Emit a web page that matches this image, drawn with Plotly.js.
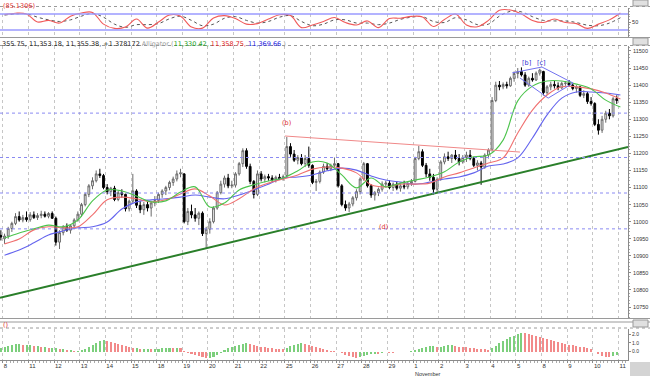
<!DOCTYPE html>
<html><head><meta charset="utf-8">
<script src="https://cdn.plot.ly/plotly-3.0.1.min.js"></script>
<style>html,body{margin:0;padding:0;background:#fff}#c{width:650px;height:376px}</style>
</head><body><div id="c"></div><script>
// ---------- DATA ----------
const dayLabels = ['8','11','12','13','14','15','18','19','20','21','22','25','26','27','28','29','1','2','3','4','5','8','9','10','11'];
const open = [10960,
 10950,10958,10980,10995,11015,11005,11012,
 11006,11020,11012,11018,11022,11016,11024,
 11010,10940,10968,10985,10975,10988,11005,
 11022,11050,11080,11105,11120,11140,11135,
 11100,11088,11098,11065,11085,11080,11038,
 11060,11090,11048,11035,11050,11040,11055,
 11062,11080,11090,11100,11115,11125,11140,
 11140,11000,11030,11020,11010,11025,10965,
 10978,11000,11040,11085,11110,11128,11105,
 11107,11140,11170,11208,11162,11118,11080,
 11140,11125,11132,11128,11122,11130,11126,
 11135,11220,11198,11180,11188,11170,11185,
 11165,11115,11118,11145,11162,11155,11165,
 11170,11105,11050,11040,11052,11070,11088,
 11125,11170,11105,11078,11085,11095,11110,
 11113,11100,11110,11098,11105,11102,11112,
 11118,11185,11205,11165,11140,11130,11095,
 11124,11175,11190,11185,11195,11185,11175,
 11188,11195,11185,11165,11172,11160,11195,
 11212,11355,11400,11395,11402,11398,11420,
 11434,11440,11430,11400,11420,11415,11435,
 11440,11378,11395,11402,11398,11392,11405,
 11406,11400,11390,11395,11370,11375,11352,
 11346,11285,11268,11300,11318,11310,11360];
const high = [10975,
 10965,10985,11000,11025,11030,11020,11030,
 11028,11030,11025,11032,11030,11028,11030,
 11015,10975,10990,10995,10990,11010,11030,
 11055,11085,11110,11130,11150,11155,11140,
 11110,11102,11105,11090,11095,11082,11065,
 11140,11095,11060,11058,11062,11060,11075,
 11085,11095,11105,11120,11132,11150,11155,
 11142,11040,11050,11040,11030,11030,10985,
 11010,11045,11090,11120,11135,11140,11120,
 11145,11175,11215,11215,11170,11122,11150,
 11148,11138,11140,11136,11135,11140,11138,
 11248,11230,11210,11195,11198,11195,11220,
 11168,11125,11150,11170,11172,11170,11188,
 11172,11110,11062,11058,11075,11095,11130,
 11175,11172,11110,11090,11100,11118,11120,
 11122,11115,11118,11112,11120,11118,11125,
 11190,11222,11212,11172,11155,11140,11130,
 11180,11200,11205,11198,11210,11198,11195,
 11205,11210,11190,11180,11178,11200,11215,
 11365,11410,11412,11408,11410,11425,11440,
 11450,11452,11438,11425,11435,11440,11448,
 11442,11400,11410,11412,11408,11410,11412,
 11415,11405,11400,11398,11385,11380,11365,
 11350,11300,11310,11325,11330,11365,11370];
const low = [10945,
 10935,10950,10970,10990,11000,10998,11000,
 11000,11008,11005,11010,11012,11010,11008,
 10930,10920,10960,10970,10965,10980,11000,
 11015,11045,11072,11095,11115,11128,11095,
 11080,11075,11060,11060,11070,11030,11030,
 11055,11040,11025,11020,11030,11015,11045,
 11055,11070,11078,11092,11105,11118,11130,
 10995,10990,11010,11000,10990,10958,10920,
 10965,10995,11035,11080,11100,11098,11098,
 11100,11135,11160,11155,11110,11068,11075,
 11118,11115,11120,11116,11115,11122,11120,
 11130,11190,11175,11168,11165,11160,11158,
 11110,11090,11112,11140,11150,11148,11160,
 11100,11045,11032,11028,11045,11062,11080,
 11120,11100,11070,11062,11075,11088,11100,
 11095,11090,11092,11088,11095,11095,11105,
 11115,11180,11160,11130,11120,11080,11085,
 11120,11168,11178,11172,11180,11165,11170,
 11175,11180,11160,11150,11108,11155,11185,
 11205,11350,11385,11388,11390,11395,11410,
 11420,11425,11395,11395,11410,11412,11428,
 11370,11372,11385,11390,11385,11388,11398,
 11395,11385,11378,11365,11362,11345,11340,
 11280,11255,11260,11290,11300,11305,11345];
const close = [10955,
 10958,10980,10995,11015,11005,11012,11006,
 11020,11012,11018,11022,11016,11024,11010,
 10940,10968,10985,10975,10988,11005,11022,
 11050,11080,11105,11120,11140,11135,11100,
 11088,11098,11065,11085,11080,11038,11060,
 11090,11048,11035,11050,11040,11055,11062,
 11080,11090,11100,11115,11125,11140,11143,
 11000,11030,11020,11010,11025,10965,10978,
 11000,11040,11085,11110,11128,11105,11107,
 11140,11170,11208,11162,11118,11080,11140,
 11125,11132,11128,11122,11130,11126,11132,
 11220,11198,11180,11188,11170,11185,11165,
 11115,11118,11145,11162,11155,11165,11170,
 11105,11050,11040,11052,11070,11088,11125,
 11170,11105,11078,11085,11095,11110,11113,
 11100,11110,11098,11105,11102,11112,11118,
 11185,11205,11165,11140,11130,11095,11124,
 11175,11190,11185,11195,11185,11175,11188,
 11195,11185,11165,11172,11160,11195,11210,
 11355,11400,11395,11402,11398,11420,11434,
 11440,11430,11400,11420,11415,11435,11444,
 11378,11395,11402,11398,11392,11405,11406,
 11400,11390,11395,11370,11375,11352,11346,
 11285,11268,11300,11318,11310,11360,11355];
// Alligator lines, one value every 4 bars
const lips = [10952,10967,10979,10990,10985,11005,11061,11093,11090,11075,11058,11061,11087,11102,11043,11055,11093,11108,11119,11128,11149,11175,11172,11137,11099,11128,11102,11113,11122,11131,11146,11175,11190,11195,11239,11354,11397,11412,11412,11403,11389,11356,11336];
const teeth = [10935,10949,10976,10985,10982,10985,11020,11064,11072,11067,11058,11064,11081,11096,11075,11049,11067,11096,11113,11125,11137,11154,11160,11157,11143,11108,11102,11110,11110,11113,11131,11143,11157,11172,11187,11260,11327,11371,11395,11395,11389,11377,11359];
const jaw = [10902,10917,10938,10961,10973,10982,10985,10999,11037,11058,11064,11067,11072,11078,11072,11067,11078,11093,11110,11128,11131,11137,11149,11157,11151,11134,11122,11116,11110,11116,11125,11131,11143,11163,11169,11187,11245,11313,11362,11380,11380,11377,11371];
const lineStep = 4;
// Stochastic, one value every 3 bars
const stochK = [78,83,80,50,56,46,72,84,86,42,26,31,61,27,50,76,72,31,27,65,74,63,42,44,61,77,74,29,39,52,67,48,39,54,29,63,64,71,69,33,59,80,39,32,56,94,95,80,56,48,61,48,44,26,42,58,84];
const stochD = [76,80,81,68,58,52,58,72,82,68,42,30,40,40,44,62,72,56,36,42,64,70,56,46,52,68,74,52,36,42,58,58,46,46,40,46,60,68,70,52,48,66,58,40,42,72,90,88,70,56,54,54,48,38,36,46,66];
const stochStep = 3;
const stochLevels = [80, 20];
// Histogram oscillator, one value per bar
const osc = [0.45,
 0.5,0.6,0.7,0.85,0.85,0.7,0.7,
 0.7,0.6,0.6,0.5,0.5,0.35,0.35,
 0.35,0.25,0.25,0.12,0.12,0.1,0.1,
 0.12,0.25,0.5,0.7,0.95,1.2,1.3,
 1.2,1.1,0.95,0.85,0.7,0.6,0.5,
 0.35,0.35,0.25,0.25,0.25,0.24,0.24,
 0.25,0.35,0.36,0.37,0.36,0.36,0.35,
 0.1,-0.12,-0.25,-0.35,-0.5,-0.6,-0.7,
 -0.7,-0.6,-0.35,-0.12,0.12,0.35,0.5,
 0.6,0.7,0.85,0.95,0.85,0.7,0.6,
 0.5,0.48,0.36,0.35,0.34,0.25,0.24,
 0.35,0.6,0.7,0.85,0.95,0.85,0.7,
 0.6,0.48,0.36,0.25,0.12,0.06,0.05,
 0,-0.12,-0.35,-0.5,-0.6,-0.7,-0.6,
 -0.5,-0.35,-0.25,-0.24,-0.25,-0.12,-0.1,
 -0.12,-0.13,-0.11,-0.06,-0.07,0,0.01,
 0.12,0.25,0.36,0.5,0.6,0.6,0.5,
 0.5,0.6,0.7,0.72,0.6,0.58,0.5,
 0.48,0.36,0.35,0.34,0.25,0.24,0.23,
 0.36,0.6,0.95,1.2,1.45,1.7,1.8,
 2.0,2.15,2.1,2.0,1.9,1.8,1.7,
 1.55,1.45,1.3,1.2,1.1,0.95,0.85,
 0.8,0.7,0.6,0.58,0.48,0.36,0.25,
 0,-0.25,-0.48,-0.6,-0.62,-0.5,-0.36];
// Drawn studies (bar index, price)
const supportX = [-1.24, 170.07], supportY = [10777, 11219];
const resistX = [76.5, 140.6], resistY = [11251, 11204];
const wedgeX = [138.5, 146.6, 155.1, 148.3, 140.6], wedgeY = [11436, 11453, 11406, 11362, 11421];
const levels = [11318, 11188, 11084, 10979];
const waveLabels = [{t:'(b)', x:77, y:11290, c:'#e03030'}, {t:'(d)', x:103.5, y:10985, c:'#e03030'}, {t:'[b]', x:142.5, y:11465, c:'#3030d0'}, {t:'[c]', x:146.5, y:11465, c:'#3030d0'}];
const headerOHLC = '355.75, 11,353.18, 11,355.38, +1.378172';
const headerVals = ['11,330.42,', '11,358.75,', '11,369.66'];
const stochTitle = '(85.1306)';

// ---------- BUILD ----------
const H = 376, W = 650, R = 628;
const py = y => 1 - y / H;
const bx = open.map((_, i) => i - 1);
const dayStarts = dayLabels.map((_, d) => 7 * d - 0.5);
const fmt = v => String(v);
const LF = 'Liberation Sans, Arial, sans-serif';

const traces = [];
traces.push({type:'candlestick', x: bx, open, high, low, close, xaxis:'x', yaxis:'y', whiskerwidth:0,
  increasing:{line:{color:'#6a6a6a', width:1}, fillcolor:'#f4f4f4'},
  decreasing:{line:{color:'#000', width:1}, fillcolor:'#000'}, hoverinfo:'skip'});
const mk = (arr, step) => arr.map((_, i) => i * step);
[[jaw,'#6464ee'],[teeth,'#f07070'],[lips,'#4cc44c']].forEach(([a,c]) => traces.push({type:'scatter', mode:'lines', x: mk(a, lineStep), y: a, xaxis:'x', yaxis:'y', line:{color:c, width:1.1, shape:'spline', smoothing:1}, hoverinfo:'skip'}));
traces.push({type:'scatter', mode:'lines', x: supportX, y: supportY, xaxis:'x', yaxis:'y', line:{color:'#2a7f2a', width:2}, hoverinfo:'skip'});
traces.push({type:'scatter', mode:'lines', x: resistX, y: resistY, xaxis:'x', yaxis:'y', line:{color:'#f08888', width:1}, hoverinfo:'skip'});
traces.push({type:'scatter', mode:'lines', x: wedgeX, y: wedgeY, xaxis:'x', yaxis:'y', line:{color:'#7272f0', width:1}, hoverinfo:'skip'});
// stochastic
traces.push({type:'scatter', mode:'lines', x: mk(stochD, stochStep), y: stochD, xaxis:'x', yaxis:'y2', line:{color:'#555', width:1, dash:'dot', shape:'spline'}, hoverinfo:'skip'});
traces.push({type:'scatter', mode:'lines', x: mk(stochK, stochStep), y: stochK, xaxis:'x', yaxis:'y2', line:{color:'#f05a5a', width:1.1, shape:'spline'}, hoverinfo:'skip'});
// oscillator histogram
const oscCol = osc.map((v, i) => (i === 0 || v >= osc[i-1]) ? '#7ccf7c' : '#f28a8a');
traces.push({type:'bar', x: bx, y: osc, xaxis:'x', yaxis:'y3', marker:{color: oscCol, line:{width:0}}, width:0.55, hoverinfo:'skip'});

const gray = '#8a8a8a';
const shapes = [];
levels.forEach(v => shapes.push({type:'line', xref:'x domain', yref:'y', x0:0, x1:1, y0:v, y1:v, line:{color:'#8a8af2', width:1, dash:'dot'}}));
stochLevels.forEach(v => shapes.push({type:'line', xref:'x domain', yref:'y2', x0:0, x1:1, y0:v, y1:v, line:{color:'#9a9aff', width:1.6}}));
[6.5, 37.5, 45.5, 318.5, 322, 328].forEach(y => shapes.push({type:'line', xref:'paper', yref:'paper', x0:0, x1:1, y0:py(y), y1:py(y), line:{color:'#9a9a9a', width:1, dash: (y===6.5||y===45.5||y===328)?'dot':'solid'}}));
[[0,6],[38,45],[320,327]].forEach(([a,b]) => shapes.push({type:'rect', xref:'paper', yref:'paper', x0:(633/W), x1:(648/W), y0:py(b), y1:py(a), line:{color:'#999', width:1}, fillcolor:'#e0e0e0'}));
shapes.push({type:'rect', xref:'paper', yref:'paper', x0:630/W, x1:1, y0:0, y1:py(362), line:{width:0}, fillcolor:'#d4d4d4'});

const ann = [];
waveLabels.forEach(l => ann.push({xref:'x', yref:'y', x:l.x, y:l.y, text:l.t, showarrow:false, font:{size:6.5, color:l.c}}));
ann.push({xref:'paper', yref:'paper', x:1/W, y:py(0), xanchor:'left', yanchor:'top', text:stochTitle, showarrow:false, font:{size:6.5, color:'#e03030'}});
ann.push({xref:'paper', yref:'paper', x:0, y:py(37.5), xanchor:'left', yanchor:'top', showarrow:false,
  text: headerOHLC + ' <span style="color:#999">Alligator (</span><span style="color:#20a020">' + headerVals[0] + '</span> <span style="color:#e02020">' + headerVals[1] + '</span> <span style="color:#2020e0">' + headerVals[2] + '</span><span style="color:#999"> )</span>',
  font:{size:6.5, color:'#222'}});
ann.push({xref:'paper', yref:'paper', x:1/W, y:py(319), xanchor:'left', yanchor:'top', text:'()', showarrow:false, font:{size:6.5, color:'#e03030'}});
ann.push({xref:'x', yref:'paper', x: dayStarts[16], y: py(368.5), xanchor:'left', yanchor:'top', text:'November', showarrow:false, font:{size:5.5, color:'#333', family:LF}});

const yTicks = [];
for (let v = 10750; v <= 11500; v += 50) yTicks.push(v);

const layout = {
  width: W, height: H, margin:{l:0, r:0, t:0, b:0}, paper_bgcolor:'#fff', plot_bgcolor:'#fff', showlegend:false,
  font:{family:'DejaVu Sans, sans-serif', size:7, color:'#333'}, hovermode:false, bargap:0,
  xaxis:{domain:[0, R/W], range:[-1.236, 170.07], anchor:'y3', tickmode:'array', tickvals: dayStarts, ticktext: dayLabels,
    showgrid:true, gridcolor:'#c6c6c6', griddash:'dot', gridwidth:1, zeroline:false, showline:true, linecolor:gray,
    ticks:'outside', ticklen:2, tickcolor:gray, ticklabelposition:'outside right', ticklabelstandoff:0, tickfont:{size:6, color:'#333', family:LF},
    minor:{dtick:1, tick0:-0.5, ticks:'outside', ticklen:2, tickcolor:'#aaa', showgrid:false},
    rangeslider:{visible:false}, fixedrange:true},
  yaxis:{domain:[py(318), py(46)], range:[10717.9, 11514.6], anchor:'x', side:'right', tickmode:'array', tickvals:yTicks, ticktext:yTicks.map(fmt),
    showgrid:false, zeroline:false, showline:true, linecolor:gray, ticks:'outside', ticklen:2, tickcolor:gray, ticklabelstandoff:1,
    minor:{dtick:10, ticks:'outside', ticklen:1, tickcolor:'#aaa'}, tickfont:{size:5.5, color:'#333', family:LF}, fixedrange:true},
  yaxis2:{domain:[py(37), py(8)], range:[-6.25, 102.5], anchor:'x', side:'right', tickvals:[50], ticktext:['50'],
    showgrid:false, zeroline:false, showline:true, linecolor:gray, ticks:'outside', ticklen:2, tickcolor:gray,
    minor:{dtick:10, ticks:'outside', ticklen:1, tickcolor:'#aaa'}, tickfont:{size:5.5, family:LF}, fixedrange:true},
  yaxis3:{domain:[py(360), py(329)], range:[-0.988, 2.616], anchor:'x', side:'right', tickvals:[0,1,2], ticktext:['0.0','1.0','2.0'],
    showgrid:false, zeroline:false, showline:true, linecolor:gray, ticks:'outside', ticklen:2, tickcolor:gray, tickfont:{size:5, family:LF}, fixedrange:true},
  shapes, annotations: ann
};
Plotly.newPlot('c', traces, layout, {staticPlot:true, displayModeBar:false});
</script></body></html>
